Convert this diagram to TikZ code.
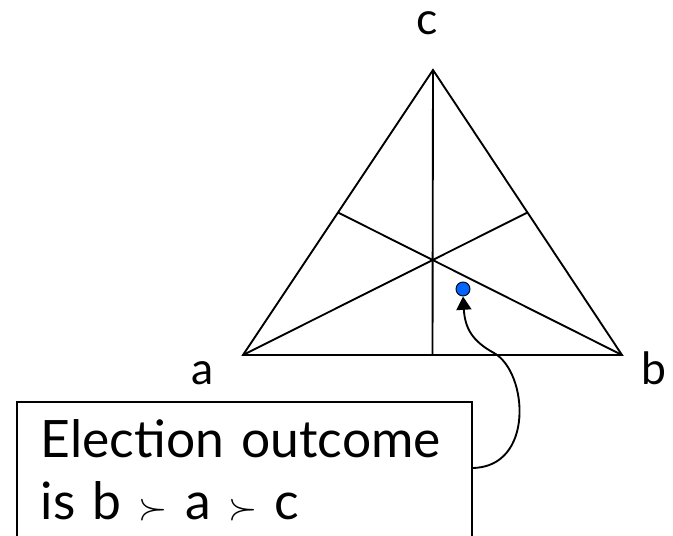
\RequirePackage{fix-cm}
\documentclass[tikz,border=0pt]{standalone}
\usepackage{fontspec}
\setmainfont{Lato}
\usetikzlibrary{arrows.meta,calc}
\definecolor{dotblue}{RGB}{0,100,255}
\newcommand{\pref}{{\fontsize{32}{40}\selectfont$\succ$}}
\begin{document}
\begin{tikzpicture}[x=0.03cm,y=-0.03cm,line width=1.6pt,
    vlabel/.style={font=\fontsize{38}{44}\selectfont,anchor=base,inner sep=0pt},
    outcome/.style={font=\fontsize{44}{53}\selectfont,align=left,anchor=north west,
      inner xsep=0.69cm,inner ysep=0.5cm,text width=12.2cm}]
    \useasboundingbox (0,0) rectangle (673,536);
    \coordinate (A) at (243,355);
    \coordinate (B) at (622,355);
    \coordinate (C) at (433,70);
    \draw (A)--(B)--(C)--cycle;
    \draw (C)--($(A)!0.5!(B)$);
    \draw (A)--($(B)!0.5!(C)$);
    \draw (B)--($(A)!0.5!(C)$);
    \node[vlabel] (la) at (203,384) {a};
    \node[vlabel] (lb) at (654,384) {b};
    \node[vlabel] (lc) at (427,35) {c};
    \node[circle,draw,line width=0.8pt,fill=dotblue,minimum size=0.42cm,inner sep=0pt] (P) at (463,289) {};
    \node[outcome] (box) at (17,402) {Election outcome\\is b \pref{} a \pref{} c};
    \draw (box.north west) rectangle ($(box.north east)+(0,160)$);
    \coordinate (S) at ($(box.north east)+(0,66)$);
    \draw[-{Triangle[length=0.4cm,width=0.45cm]}] (S) .. controls (535,468) and (528,372) .. (494,353)
      .. controls (472,341) and (465,328) .. (P.south);
\end{tikzpicture}
\end{document}
